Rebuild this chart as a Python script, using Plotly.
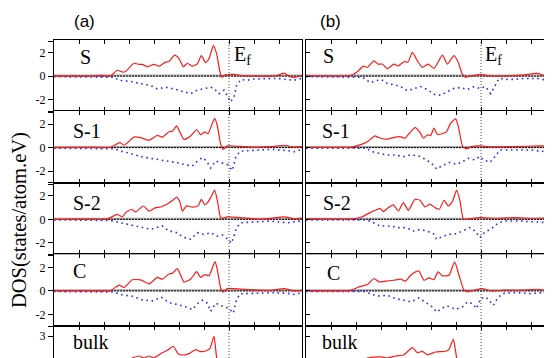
import plotly.graph_objects as go

# page is rendered with an 8px body margin, so the figure is offset by OFF
OFF = 8
W, H = 552 - OFF, 358 - OFF

row_names = ["S", "S-1", "S-2", "C", "bulk"]
x_ticks = [-12, -10, -8, -6, -4, -2, 0, 2, 4]
y_ticks = [-2, 0, 2]
y_tick_text = ["-2", "0", "2"]
bulk_ticks = [3]
bulk_tick_text = ["3"]
E_fermi = 0.0

# ---------------- panel (a) ----------------
a_S_up_E = [-14, -11.33, -10.13, -9.73, -9.47, -8.93, -8.53, -8.27, -7.6, -7.2, -6.93, -6.53, -6.0, -5.6, -5.07, -4.8, -4.35, -4.0, -3.65, -3.33, -2.93, -2.53, -2.21, -1.87, -1.6, -1.25, -0.99, -0.75, -0.59, -0.27, 0.4, 0.93, 2.0, 3.33, 3.87, 4.4, 4.8, 5.2, 5.87]
a_S_up = [0, 0.0, 0.06, 0.0, 0.02, 0.5, 0.35, 0.4, 1.1, 1.0, 1.0, 0.8, 1.0, 0.85, 1.2, 1.25, 1.8, 1.5, 0.8, 1.1, 0.85, 1.05, 1.75, 1.15, 1.5, 2.6, 1.9, 0.5, -0.1, 0.1, 0.15, 0.05, 0.0, -0.02, 0.05, 0.25, 0.0, -0.1, 0.05]
a_S_dn_E = [-14, -11.33, -9.2, -8.8, -7.87, -7.07, -6.27, -5.73, -5.07, -4.4, -3.73, -3.07, -2.53, -2.0, -1.47, -1.2, -0.8, -0.4, -0.13, 0.13, 0.4, 0.61, 0.93, 1.47, 2.0, 3.07, 3.87, 4.67, 5.2, 5.87]
a_S_dn = [-0.05, -0.08, -0.1, -0.37, -0.45, -0.65, -0.8, -1.1, -0.95, -1.1, -1.3, -1.5, -1.2, -1.1, -0.95, -1.05, -1.5, -1.2, -1.65, -2.2, -1.8, -0.8, -0.3, -0.35, -0.25, -0.2, -0.2, -0.3, -0.35, -0.2]

a_S1_up_E = [-14, -11.33, -9.47, -8.72, -8.4, -7.6, -7.07, -6.4, -5.73, -5.33, -4.8, -4.53, -4.19, -3.92, -3.6, -3.07, -2.59, -2.27, -1.95, -1.68, -1.15, -0.93, -0.67, -0.48, -0.13, 0.93, 2.0, 3.33, 4.4, 5.2, 5.87]
a_S1_up = [0, 0.02, 0.03, 0.43, 0.2, 0.9, 0.85, 0.63, 1.05, 0.9, 1.35, 1.4, 1.85, 1.3, 0.7, 1.0, 1.55, 1.1, 1.35, 1.2, 2.5, 1.85, 0.3, -0.15, 0.15, 0.1, 0.05, 0.08, 0.2, 0.05, 0.08]
a_S1_dn_E = [-14, -11.33, -9.2, -8.67, -7.87, -7.07, -6.27, -5.2, -4.13, -3.33, -2.93, -2.53, -2.13, -1.79, -1.47, -1.07, -0.53, -0.13, 0.27, 0.53, 0.88, 2.0, 3.33, 4.67, 5.2, 5.87]
a_S1_dn = [-0.05, -0.08, -0.1, -0.3, -0.5, -0.77, -0.9, -1.1, -1.3, -1.5, -1.57, -1.15, -0.85, -1.15, -1.75, -1.15, -1.3, -1.45, -1.95, -0.85, -0.3, -0.25, -0.15, -0.25, -0.35, -0.15]

a_S2_up_E = [-14, -11.33, -9.73, -8.93, -8.53, -8.27, -7.81, -7.47, -6.85, -6.4, -5.87, -5.47, -4.93, -4.53, -4.19, -3.92, -3.73, -3.39, -2.93, -2.48, -2.21, -1.95, -1.73, -1.47, -1.15, -0.93, -0.67, -0.48, -0.13, 0.93, 2.53, 4.4, 5.2, 5.87]
a_S2_up = [0, 0.02, 0.03, 0.43, 0.2, 0.57, 0.86, 0.63, 1.14, 0.7, 1.0, 1.05, 1.3, 1.6, 1.9, 1.45, 0.7, 1.15, 1.05, 1.15, 1.7, 1.25, 1.4, 1.85, 2.5, 1.6, 0.15, 0.1, 0.2, 0.15, 0.0, 0.2, 0.05, 0.1]
a_S2_dn_E = [-14, -11.33, -9.47, -8.67, -7.87, -6.93, -6.27, -5.33, -4.8, -4.13, -3.73, -3.07, -2.53, -2.0, -1.47, -0.93, -0.53, 0.0, 0.19, 0.4, 0.61, 0.93, 2.0, 3.33, 4.67, 5.73]
a_S2_dn = [-0.05, -0.08, -0.1, -0.3, -0.5, -0.7, -0.85, -0.57, -1.0, -1.15, -1.5, -1.7, -1.15, -1.3, -1.15, -1.45, -1.35, -1.8, -2.05, -1.45, -0.7, -0.3, -0.25, -0.15, -0.3, -0.15]

a_C_up_E = [-14, -11.33, -9.47, -8.8, -8.4, -7.73, -7.07, -6.4, -5.73, -5.33, -4.8, -4.53, -4.13, -3.87, -3.6, -3.07, -2.59, -2.27, -1.95, -1.6, -1.12, -0.93, -0.67, -0.48, -0.13, 0.93, 2.0, 3.33, 4.4, 5.2, 5.87]
a_C_up = [0, 0.02, 0.03, 0.5, 0.3, 0.95, 0.95, 0.6, 1.15, 1.0, 1.45, 1.5, 1.9, 1.35, 0.75, 1.0, 1.65, 1.15, 1.4, 1.3, 2.5, 1.8, 0.25, -0.1, 0.2, 0.15, 0.08, 0.05, 0.2, 0.0, 0.05]
a_C_dn_E = [-14, -11.33, -9.2, -8.53, -7.73, -6.93, -6.13, -5.41, -4.8, -4.0, -3.33, -2.93, -2.48, -2.13, -1.73, -1.47, -1.07, -0.53, 0.0, 0.35, 0.59, 0.88, 2.0, 3.33, 4.67, 5.2, 5.87]
a_C_dn = [-0.05, -0.08, -0.1, -0.35, -0.45, -0.77, -0.85, -0.55, -1.0, -1.2, -1.4, -1.6, -1.05, -0.8, -1.05, -1.75, -1.05, -1.3, -1.5, -1.9, -0.8, -0.25, -0.2, -0.15, -0.2, -0.3, -0.15]

a_B_up_E = [-14, -11.0, -9.5, -9.0, -8.4, -7.73, -7.2, -6.8, -6.4, -6.0, -5.47, -4.93, -4.45, -4.08, -3.65, -3.2, -2.67, -2.27, -1.87, -1.52, -1.2, -0.93, -0.6, 0.0, 2.0, 5.87]
a_B_up = [0, 0.02, 0.05, 0.4, 0.6, 0.88, 1.07, 0.88, 1.07, 0.88, 1.3, 1.63, 2.02, 1.3, 1.17, 1.3, 1.7, 1.5, 1.56, 1.82, 3.0, 0.5, 0.0, 0.15, 0.05, 0.05]
a_B_dn_E = [-14, -9.5, -8.5, -7.0, -5.5, -4.0, -3.0, -2.0, -1.2, -0.5, 0.2, 0.8, 2.0, 5.87]
a_B_dn = [-0.05, -0.1, -0.45, -0.8, -1.1, -1.4, -1.6, -1.2, -1.5, -1.3, -1.9, -0.3, -0.2, -0.2]

# ---------------- panel (b) ----------------
b_S_up_E = [-14, -10.43, -9.89, -9.41, -9.09, -8.56, -8.24, -7.89, -7.49, -6.96, -6.64, -6.16, -5.84, -5.49, -5.09, -4.69, -4.24, -3.76, -3.09, -2.69, -2.16, -1.84, -1.49, -1.23, -0.83, -0.03, 0.77, 1.84, 3.17, 4.51, 5.04, 5.71]
b_S_up = [0.03, 0.05, 0.37, 0.86, 0.75, 1.3, 1.03, 1.03, 0.63, 1.03, 0.86, 1.23, 1.2, 2.03, 1.3, 0.75, 1.03, 0.66, 1.8, 1.03, 1.75, 1.23, 0.17, -0.1, 0.0, 0.14, 0.0, 0.0, 0.08, 0.23, 0.06, 0.08]
b_S_dn_E = [-14, -10.16, -9.49, -8.83, -8.43, -7.97, -7.49, -6.83, -6.29, -5.89, -5.36, -4.83, -4.29, -3.76, -3.23, -2.69, -2.16, -1.63, -1.09, -0.56, -0.08, 0.37, 0.77, 1.09, 1.44, 2.37, 3.44, 4.51, 5.31, 5.71]
b_S_dn = [-0.05, -0.05, -0.1, -0.57, -0.4, -0.3, -0.63, -0.77, -0.97, -1.25, -1.05, -0.9, -1.15, -1.55, -1.63, -1.35, -1.05, -0.97, -1.15, -0.9, -1.05, -0.9, -1.5, -0.9, -0.2, -0.3, -0.2, -0.2, -0.35, -0.2]

b_S1_up_E = [-14, -10.35, -9.68, -9.09, -8.48, -8.21, -7.55, -7.01, -6.48, -6.08, -5.73, -5.28, -4.88, -4.61, -4.27, -4.03, -3.76, -3.49, -3.01, -2.75, -2.43, -2.03, -1.81, -1.47, -1.15, -0.75, -0.08, 0.72, 2.59, 4.72, 5.52, 5.7]
b_S1_up = [0.03, 0.05, 0.23, 0.5, 1.0, 0.86, 0.71, 0.86, 0.94, 0.8, 1.23, 1.71, 1.31, 0.8, 1.09, 1.03, 1.66, 1.14, 1.23, 1.37, 2.09, 2.46, 1.8, 0.09, -0.11, 0.09, 0.14, 0.06, 0.09, 0.14, 0.14, 0.12]
b_S1_dn_E = [-14, -9.15, -8.75, -8.08, -7.55, -6.88, -6.21, -5.68, -5.01, -4.35, -3.95, -3.55, -3.01, -2.48, -1.95, -1.47, -1.01, -0.48, -0.13, 0.24, 0.72, 1.12, 1.52, 2.59, 3.92, 4.72, 5.39, 5.7]
b_S1_dn = [-0.05, -0.05, -0.34, -0.49, -0.63, -0.63, -0.77, -0.63, -0.69, -1.06, -1.34, -1.83, -1.49, -1.26, -1.43, -1.2, -0.91, -1.06, -0.77, -1.06, -1.26, -0.77, -0.2, -0.2, -0.2, -0.29, -0.4, -0.3]

b_S2_up_E = [-14, -10.21, -9.55, -8.88, -8.48, -8.08, -7.81, -7.41, -7.01, -6.61, -6.21, -5.81, -5.28, -4.88, -4.48, -4.08, -3.68, -3.33, -2.96, -2.61, -2.27, -1.95, -1.68, -1.41, -1.15, -0.08, 1.25, 2.59, 4.19, 5.7]
b_S2_up = [0.03, 0.05, 0.2, 0.57, 0.77, 0.94, 0.66, 1.0, 1.23, 0.71, 1.43, 0.77, 1.71, 1.63, 1.06, 1.29, 1.0, 0.86, 1.63, 1.14, 1.57, 2.49, 1.57, 0.0, 0.0, 0.14, 0.09, 0.14, 0.09, 0.1]
b_S2_dn_E = [-14, -9.15, -8.61, -8.08, -7.28, -6.61, -5.95, -5.41, -4.88, -4.35, -3.81, -3.55, -3.01, -2.48, -1.95, -1.41, -0.88, -0.48, -0.08, 0.32, 0.77, 1.25, 1.79, 3.12, 4.72, 5.39, 5.7]
b_S2_dn = [-0.05, -0.05, -0.29, -0.57, -0.57, -0.71, -0.71, -1.0, -0.86, -1.0, -1.23, -1.71, -1.43, -1.29, -1.23, -1.0, -0.71, -1.0, -1.57, -1.06, -0.86, -0.43, -0.14, -0.14, -0.29, -0.29, -0.25]

b_C_up_E = [-14, -10.43, -9.76, -9.09, -8.56, -8.16, -7.63, -6.96, -6.43, -6.03, -5.63, -5.23, -4.96, -4.56, -4.16, -3.76, -3.44, -3.09, -2.56, -2.11, -1.76, -1.36, -1.09, -0.56, 0.11, 0.77, 1.84, 3.17, 4.51, 5.57, 5.7]
b_C_up = [0.03, 0.05, 0.34, 0.54, 1.06, 0.77, 0.83, 0.91, 1.0, 0.83, 1.34, 1.63, 1.69, 0.91, 1.11, 0.97, 1.63, 1.29, 1.34, 2.49, 1.34, 0.06, -0.09, 0.06, 0.2, 0.0, 0.06, 0.06, 0.14, -0.03, 0.0]
b_C_dn_E = [-14, -9.36, -8.69, -8.16, -7.49, -6.83, -6.16, -5.63, -4.96, -4.29, -3.89, -3.55, -3.09, -2.69, -2.03, -1.49, -1.09, -0.69, -0.35, -0.03, 0.37, 0.64, 0.99, 1.31, 1.71, 2.64, 3.97, 5.04, 5.71]
b_C_dn = [-0.05, -0.05, -0.31, -0.43, -0.37, -0.66, -0.8, -0.94, -0.6, -1.09, -1.37, -1.8, -1.46, -1.29, -1.57, -1.37, -0.94, -1.09, -1.51, -0.66, -0.51, -0.8, -1.23, -0.66, -0.23, -0.14, -0.23, -0.14, -0.31]

b_B_up_E = [-14, -10.5, -9.8, -9.09, -8.03, -7.49, -6.83, -6.16, -5.49, -5.09, -4.69, -4.29, -3.63, -2.83, -2.56, -2.21, -1.89, -1.5, 0.0, 5.7]
b_B_up = [0.02, 0.05, 0.4, 0.88, 0.98, 0.88, 1.07, 1.2, 1.89, 1.4, 1.53, 1.2, 1.46, 1.53, 1.72, 2.7, 0.6, 0.0, 0.1, 0.05]
b_B_dn_E = [-14, -9.5, -8.5, -7.0, -5.5, -4.0, -3.5, -2.5, -1.5, -0.5, 0.7, 1.5, 3.0, 5.7]
b_B_dn = [-0.05, -0.1, -0.5, -0.7, -0.9, -1.2, -1.7, -1.3, -1.3, -1.1, -1.4, -0.2, -0.2, -0.25]

# near-zero grey background state (both panels)
grey_E = [-14, 6]
grey_val = [0.05, 0.05]

panel_a = [(a_S_up_E, a_S_up, a_S_dn_E, a_S_dn), (a_S1_up_E, a_S1_up, a_S1_dn_E, a_S1_dn),
           (a_S2_up_E, a_S2_up, a_S2_dn_E, a_S2_dn), (a_C_up_E, a_C_up, a_C_dn_E, a_C_dn),
           (a_B_up_E, a_B_up, a_B_dn_E, a_B_dn)]
panel_b = [(b_S_up_E, b_S_up, b_S_dn_E, b_S_dn), (b_S1_up_E, b_S1_up, b_S1_dn_E, b_S1_dn),
           (b_S2_up_E, b_S2_up, b_S2_dn_E, b_S2_dn), (b_C_up_E, b_C_up, b_C_dn_E, b_C_dn),
           (b_B_up_E, b_B_up, b_B_dn_E, b_B_dn)]

# ---------------- layout geometry (page pixels) ----------------
row_tops = [39.5, 111.0, 182.7, 254.3, 326.0]
row_h = 71.7
panel_x = [(54, 302), (306, 552)]
x_ranges = [[-14, 5.84], [-14, 5.68]]


def fx(px):
    return (px - OFF) / W


def fy(py):
    return 1 - (py - OFF) / H


fig = go.Figure()
layout = dict(width=W, height=H, margin=dict(l=0, r=0, t=0, b=0),
              paper_bgcolor="white", plot_bgcolor="white", showlegend=False)

serif = "Liberation Serif"
ax_i = 0
for p, panel in enumerate([panel_a, panel_b]):
    x0p, x1p = panel_x[p]
    for r, (uE, u, dE, d) in enumerate(panel):
        ax_i += 1
        xa = "x" if ax_i == 1 else f"x{ax_i}"
        ya = "y" if ax_i == 1 else f"y{ax_i}"
        top = row_tops[r]
        bot = top + row_h
        yd = [max(0.0, fy(bot)), fy(top)]
        if r < 4:
            yr = [-3.0, 3.13]
            tv, tt = y_ticks, y_tick_text
            minor_vals = [-3, 3]
        else:
            yr = [4 - 7 * (358 - top) / row_h, 4.0]
            tv, tt = bulk_ticks, bulk_tick_text
            minor_vals = []
        fig.add_trace(go.Scatter(x=grey_E, y=grey_val, mode="lines", xaxis=xa, yaxis=ya,
                                 line=dict(color="#a8a8a8", width=2), hoverinfo="skip"))
        fig.add_trace(go.Scatter(x=[x_ranges[p][0], x_ranges[p][1]], y=[0, 0], mode="lines",
                                 xaxis=xa, yaxis=ya,
                                 line=dict(color="black", width=1, dash="2px,1px"), hoverinfo="skip"))
        fig.add_trace(go.Scatter(x=dE, y=d, mode="lines", xaxis=xa, yaxis=ya,
                                 line=dict(color="#2a2aff", width=1.6, dash="1.6px,3.6px")))
        fig.add_trace(go.Scatter(x=uE, y=u, mode="lines", xaxis=xa, yaxis=ya,
                                 line=dict(color="#ff1a1a", width=1.2, shape="spline", smoothing=0.5)))
        xkey = "xaxis" if ax_i == 1 else f"xaxis{ax_i}"
        ykey = "yaxis" if ax_i == 1 else f"yaxis{ax_i}"
        layout[xkey] = dict(domain=[fx(x0p), min(1.0, fx(x1p))], range=x_ranges[p], anchor=ya,
                            showline=True, linecolor="black", linewidth=1.2,
                            mirror=("allticks" if r < 4 else False),
                            side=("bottom" if r < 4 else "top"),
                            ticks="inside", ticklen=4, tickcolor="black", tickwidth=1,
                            tickvals=x_ticks, showticklabels=False, showgrid=False, zeroline=False)
        ydict = dict(domain=yd, range=yr, anchor=xa,
                     showline=True, linecolor="black", linewidth=1.2,
                     mirror=(p == 0),
                     ticks=("outside" if p == 0 else "inside"), ticklen=(5 if p == 0 else 4),
                     tickcolor="black", tickwidth=1,
                     tickvals=tv, ticktext=tt, showticklabels=(p == 0),
                     tickfont=dict(family=serif, size=12, color="black"),
                     showgrid=False, zeroline=False)
        if p == 0 and minor_vals:
            ydict["minor"] = dict(tickvals=minor_vals, ticks="outside", ticklen=5,
                                  tickcolor="black", tickwidth=1, showgrid=False)
        layout[ykey] = ydict

fig.update_layout(**layout)

# Fermi-level dotted lines
shapes = []
for p, xref in enumerate(["x", "x6"]):
    shapes.append(dict(type="line", xref=xref, yref="paper", x0=E_fermi, x1=E_fermi,
                       y0=0, y1=fy(row_tops[0]),
                       line=dict(color="#444444", width=1, dash="1px,2px")))
fig.update_layout(shapes=shapes)

ann = []


def px_ann(text, x, y, size, family=serif, xanchor="left", yanchor="middle", angle=0):
    ann.append(dict(text=text, x=fx(x), y=fy(y), xref="paper", yref="paper",
                    xanchor=xanchor, yanchor=yanchor, showarrow=False, textangle=angle,
                    font=dict(family=family, size=size, color="black")))


px_ann("(a)", 72, 21, 17, family="Liberation Sans")
px_ann("(b)", 318, 21, 17, family="Liberation Sans")

label_pos_a = [(78, 57), (71, 131), (71, 203), (71, 271), (71, 342)]
label_pos_b = [(321, 56), (320, 131), (321, 203), (325, 273), (320, 342)]
for name, (x, y) in zip(row_names, label_pos_a):
    px_ann(name, x, y, 20)
for name, (x, y) in zip(row_names, label_pos_b):
    px_ann(name, x, y, 20)

px_ann("E<sub>f</sub>", 232, 56, 20)
px_ann("E<sub>f</sub>", 483, 56, 20)

px_ann("DOS(states/atom.eV)", 19, 220, 20.5, xanchor="center", angle=-90)

fig.update_layout(annotations=ann)
fig.write_html("out.html")
